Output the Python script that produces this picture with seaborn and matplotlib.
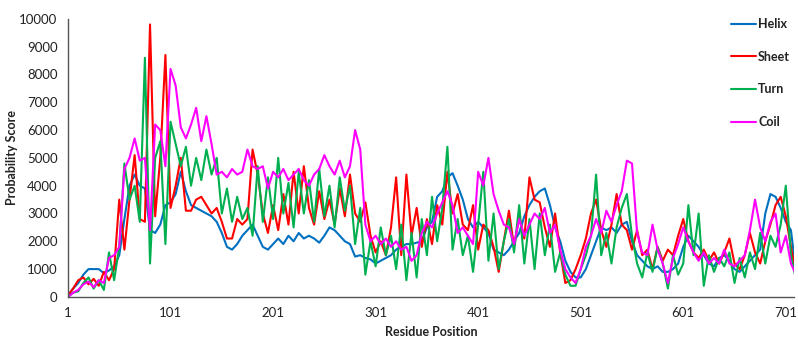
import numpy as np
import pandas as pd
import seaborn as sns
import matplotlib.pyplot as plt

# residue positions sampled every 5 residues
residues = list(range(1, 712, 5))

helix = [50, 300, 500, 800, 1000, 1000, 1000, 850, 950, 1100,
         1500, 2800, 4000, 4400, 4000, 3900, 2400, 2300, 2600, 3300,
         3400, 3700, 4500, 3800, 3300, 3200, 3100, 3000, 2900, 2700,
         2300, 1800, 1700, 1900, 2200, 2400, 2600, 2200, 1800, 1700,
         1900, 2100, 1900, 2200, 2000, 2300, 2100, 2200, 2100, 1950,
         2200, 2500, 2400, 2200, 2000, 1900, 1450, 1500, 1400, 1350,
         1200, 1300, 1400, 1500, 1700, 1800, 1900, 1900, 1950, 2000,
         2500, 2700, 3600, 3800, 4300, 4450, 4000, 3500, 2800, 2500,
         2700, 2500, 2300, 1700, 1600, 1500, 1700, 2000, 2300, 2900,
         3300, 3600, 3800, 3900, 3300, 2500, 2000, 1300, 900, 700,
         700, 1000, 1500, 2000, 2500, 2400, 2500, 2300, 2600, 2700,
         2000, 1500, 1300, 1100, 1000, 1100, 900, 900, 1000, 1200,
         1800, 2200, 2000, 1800, 1500, 1200, 1100, 1400, 1500, 1300,
         1000, 900, 1100, 1300, 1500, 1700, 3000, 3700, 3600, 3200,
         2700, 2400, 900]

sheet = [50, 300, 600, 700, 450, 650, 400, 900, 600, 1000,
         3500, 1700, 3500, 5100, 2800, 2700, 9800, 2900, 5000, 8700,
         3200, 4000, 5000, 3100, 3100, 3500, 3600, 3300, 3000, 3200,
         2700, 2100, 2100, 2800, 2600, 2800, 5300, 4400, 3000, 2300,
         3300, 2400, 3700, 2600, 4500, 3000, 4700, 3200, 2600, 3800,
         2800, 3500, 2600, 3900, 2900, 4400, 3000, 2700, 3400, 2200,
         1600, 2000, 1500, 2500, 4300, 1500, 4400, 2200, 3200, 1800,
         2800, 1900, 3300, 2600, 4500, 3000, 3700, 2600, 2400, 3300,
         1700, 2600, 2400, 1800, 900, 2000, 3100, 1800, 2900, 2100,
         4300, 3500, 3400, 2500, 1800, 3000, 1600, 500, 600, 1000,
         1500, 2100, 3000, 3500, 2400, 1800, 2600, 3700, 2600, 2400,
         1700, 2400, 1500, 1700, 1000, 1800, 1300, 1700, 1500, 2200,
         2800, 2000, 1600, 1400, 1700, 1300, 1600, 1200, 1600, 2100,
         1200, 1000, 1500, 2300, 1600, 1200, 2000, 2600, 3300, 3600,
         2900, 1800, 800]

turn = [0, 150, 200, 500, 700, 300, 600, 250, 1600, 600,
        1800, 4800, 3500, 4000, 2700, 8600, 1200, 5000, 5600, 1900,
        6300, 5500, 4700, 5400, 4000, 5000, 4200, 5300, 4400, 5000,
        3000, 3900, 2700, 3600, 2800, 3200, 2200, 4700, 2700, 4300,
        2800, 5000, 3000, 4100, 2500, 4500, 3000, 4200, 2700, 4600,
        2900, 4000, 2500, 4300, 3100, 4000, 1900, 3200, 800, 2000,
        1100, 2500, 1500, 2200, 1000, 2600, 600, 2300, 700, 2800,
        1500, 3600, 2000, 3200, 5400, 1700, 2800, 1500, 2200, 900,
        2600, 4500, 1300, 3000, 1000, 2000, 2800, 1600, 3300, 1200,
        2800, 1000, 3000, 1500, 2600, 900, 1600, 800, 400, 400,
        1000, 1500, 2200, 4400, 1500, 2300, 1200, 2500, 3200, 3700,
        2200, 1200, 700, 1600, 900, 1800, 1200, 300, 1500, 800,
        1200, 3300, 1500, 3000, 400, 1500, 900, 1400, 1100, 1600,
        500, 1400, 700, 1600, 1000, 2300, 1200, 2200, 1800, 2600,
        4000, 1500, 600]

coil = [0, 150, 250, 450, 550, 350, 600, 500, 1400, 1500,
        1800, 4600, 5000, 5700, 4900, 5000, 2400, 6200, 6000, 4700,
        8200, 7600, 6100, 5700, 6200, 6800, 5600, 6500, 5500, 4400,
        4500, 4300, 4600, 4400, 4500, 5300, 4700, 4600, 4700, 3900,
        4500, 4300, 4600, 4200, 4400, 4600, 4200, 4000, 4400, 4600,
        5100, 4700, 4400, 4900, 4300, 4700, 6000, 5300, 2600, 2000,
        2200, 1900, 2100, 1800, 2000, 1700, 1800, 1300, 1500, 2300,
        2700, 2500, 3000, 3400, 3800, 3300, 2300, 2500, 2200, 1900,
        4500, 4000, 5000, 3700, 3100, 2600, 2500, 1900, 2800, 2200,
        2600, 3000, 2800, 3200, 2300, 2600, 1700, 1000, 700, 500,
        1000, 1800, 2200, 2800, 2300, 3100, 2700, 3300, 3800, 4900,
        4800, 2300, 1600, 1500, 2600, 1700, 1200, 500, 1400, 1900,
        2500, 2000, 1600, 1300, 1600, 1200, 1400, 1200, 1700, 1200,
        1100, 1300, 1500, 2400, 3500, 2500, 2000, 2700, 3000, 1600,
        2200, 1200, 800]

labels = ["Helix", "Sheet", "Turn", "Coil"]
colors = {"Helix": "#0070C0", "Sheet": "#FF0000", "Turn": "#00B050", "Coil": "#FF00FF"}
xticks = [1, 101, 201, 301, 401, 501, 601, 701]

df = pd.DataFrame({"Residue": residues, "Helix": helix, "Sheet": sheet, "Turn": turn, "Coil": coil})
long_df = df.melt(id_vars="Residue", var_name="Structure", value_name="Score")

sns.set_style("white")
plt.rcParams['font.family'] = ['Lato', 'DejaVu Sans']

fig = plt.figure(figsize=(7.98, 3.37), dpi=100)
ax = fig.add_axes([0.0852, 0.119, 0.9098, 0.825])
sns.lineplot(data=long_df, x="Residue", y="Score", hue="Structure", hue_order=labels,
             palette=colors, linewidth=1.5, ax=ax)

ax.set_xlim(1, 709)
ax.set_ylim(0, 10000)
ax.set_xticks(xticks)
ax.set_yticks(range(0, 10001, 1000))
ax.tick_params(axis='both', labelsize=9.5, colors='#404040', length=4, width=0.8, direction='out')
ax.tick_params(axis='both', labelcolor='#222222')
sns.despine(ax=ax)
for s in ['left', 'bottom']:
    ax.spines[s].set_color('#555555')
    ax.spines[s].set_linewidth(1.0)

ax.set_xlabel("Residue Position", fontsize=9, fontweight='bold', color='#222222', labelpad=5)
ax.set_ylabel("Probability Score", fontsize=9, fontweight='bold', color='#222222', labelpad=1)

leg = ax.legend(loc='upper right', bbox_to_anchor=(1.005, 1.03), frameon=False,
                fontsize=9, labelspacing=1.65, handlelength=2.0, handletextpad=0.2,
                borderaxespad=0.2)
for t in leg.get_texts():
    t.set_fontweight('bold')
    t.set_color('#222222')

fig.savefig("out.png", dpi=100)
